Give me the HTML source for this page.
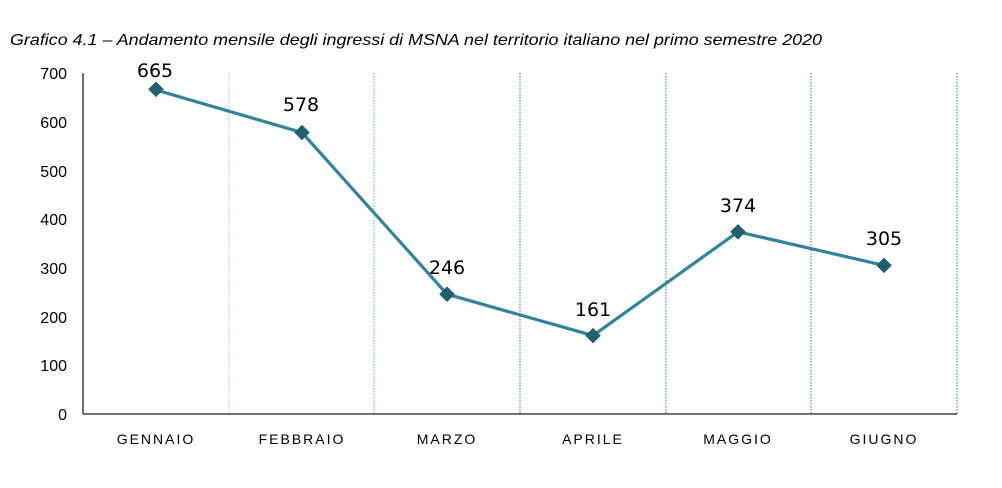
<!DOCTYPE html>
<html><head><style>body{margin:0;background:#fff}</style></head><body>
<svg width="1002" height="483" xmlns="http://www.w3.org/2000/svg" font-family="Liberation Sans, sans-serif">
<rect width="1002" height="483" fill="#fff"/>
<text x="10" y="45" font-size="16" font-style="italic" fill="#000" textLength="812" lengthAdjust="spacingAndGlyphs">Grafico 4.1 – Andamento mensile degli ingressi di MSNA nel territorio italiano nel primo semestre 2020</text>
<g font-size="16" fill="#000" text-anchor="end">
<text x="67" y="79">700</text><text x="67" y="128">600</text><text x="67" y="177">500</text><text x="67" y="225">400</text><text x="67" y="274">300</text><text x="67" y="323">200</text><text x="67" y="371">100</text><text x="67" y="420">0</text>
</g>
<g stroke-width="1.2" stroke-dasharray="1.5,1.5">
<line x1="229" y1="73" x2="229" y2="414" stroke="#9dd3e6"/>
<line x1="374" y1="73" x2="374" y2="414" stroke="#7fb6c8"/>
<line x1="520" y1="73" x2="520" y2="414" stroke="#4f8fa3"/>
<line x1="666" y1="73" x2="666" y2="414" stroke="#4f8fa3"/>
<line x1="811" y1="73" x2="811" y2="414" stroke="#4f8fa3"/>
<line x1="957" y1="73" x2="957" y2="414" stroke="#4f8fa3"/>
</g>
<line x1="83" y1="73" x2="83" y2="414" stroke="#222" stroke-width="1.3"/>
<line x1="83" y1="414" x2="957" y2="414" stroke="#222" stroke-width="1.3"/>
<polyline points="156,90 302,132.5 447,294.2 593,335.6 738,231.8 884,265.4" fill="none" stroke="#31849b" stroke-width="3.2"/>
<g fill="#215e6e">
<rect x="150" y="84" width="11" height="11" transform="rotate(45 156 90)"/>
<rect x="296.5" y="127" width="11" height="11" transform="rotate(45 302 132.5)"/>
<rect x="441.5" y="288.7" width="11" height="11" transform="rotate(45 447 294.2)"/>
<rect x="587.5" y="330.1" width="11" height="11" transform="rotate(45 593 335.6)"/>
<rect x="732.5" y="226.3" width="11" height="11" transform="rotate(45 738 231.8)"/>
<rect x="878.5" y="259.9" width="11" height="11" transform="rotate(45 884 265.4)"/>
</g>
<g font-size="19" fill="#000" text-anchor="middle" font-family="DejaVu Sans, sans-serif">
<text x="155" y="77">665</text><text x="301" y="111">578</text><text x="447" y="274">246</text><text x="593" y="316">161</text><text x="738" y="212">374</text><text x="884" y="245">305</text>
</g>
<g font-size="14" fill="#000" text-anchor="middle" letter-spacing="2">
<text x="156" y="444">GENNAIO</text><text x="302" y="444">FEBBRAIO</text><text x="447" y="444">MARZO</text><text x="593" y="444">APRILE</text><text x="738" y="444">MAGGIO</text><text x="884" y="444">GIUGNO</text>
</g>
</svg>
</body></html>
